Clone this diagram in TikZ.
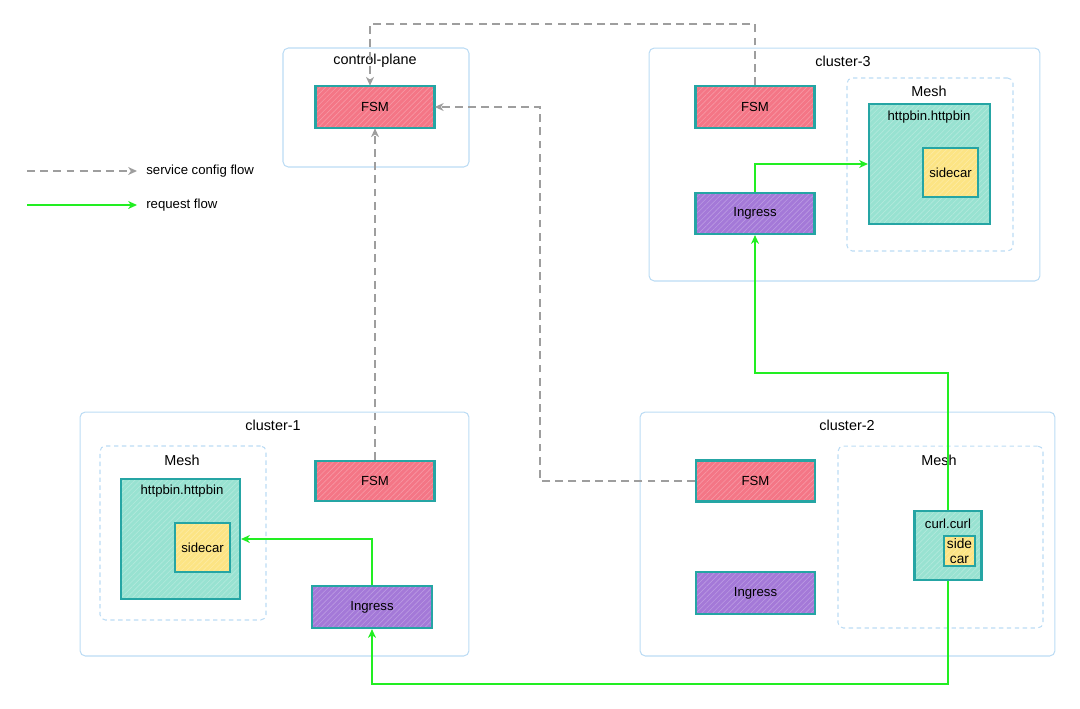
\documentclass[tikz,border=0pt]{standalone}
\usepackage{fontspec}
\setmainfont{Liberation Sans}
\usetikzlibrary{arrows.meta,patterns.meta}
\definecolor{fsmred}{HTML}{F47686}
\definecolor{ingpurple}{HTML}{A479D8}
\definecolor{podteal}{HTML}{98E2D1}
\definecolor{caryellow}{HTML}{FCE484}
\definecolor{compline}{HTML}{25A5A4}
\definecolor{clusterline}{HTML}{BCDCF4}
\definecolor{cfggray}{HTML}{9E9E9E}
\definecolor{reqgreen}{HTML}{22EE22}
\tikzset{
	comp/.style={draw=compline, line width=1.2pt, preaction={fill=#1},
			pattern={Lines[angle=45,distance=2.2pt,line width=0.35pt]}, pattern color=#1!75!white,
			font=\fontsize{7.5}{9}\selectfont, inner sep=1pt, align=center},
	cluster/.style={draw=clusterline, line width=0.6pt, rounded corners=3pt},
	mesh/.style={draw=clusterline, line width=0.6pt, dashed, dash pattern=on 2.5pt off 2pt, rounded corners=3pt},
	title/.style={font=\fontsize{8.2}{10}\selectfont, inner sep=0pt},
	small/.style={font=\fontsize{7.5}{9}\selectfont, inner sep=0pt},
	cfg/.style={draw=cfggray, line width=0.9pt, dash pattern=on 4.5pt off 3pt, -{Stealth[length=5pt,width=4.5pt,inset=1.5pt]}},
	req/.style={draw=reqgreen, line width=0.9pt, -{Stealth[length=5pt,width=4.5pt,inset=1.5pt]}}
}

\begin{document}
\begin{tikzpicture}[x=0.02cm, y=-0.02cm]
		\useasboundingbox (0,0) rectangle (1080,708);
		
		% control-plane
		\node[cluster, minimum width=3.72cm, minimum height=2.38cm] (cp) at (376,107.5) {};
		\node[title] (cptitle) at (375,61) {control-plane};
		\node[comp=fsmred, minimum width=2.38cm, minimum height=0.84cm] (fsmcp) at (375,107) {FSM};
		
		% cluster-3
		\node[cluster, minimum width=7.82cm, minimum height=4.66cm] (c3) at (844.5,164.5) {};
		\node[title] (c3title) at (843,61) {cluster-3};
		\node[comp=fsmred, minimum width=2.38cm, minimum height=0.84cm] (fsm3) at (755,107) {FSM};
		\node[comp=ingpurple, minimum width=2.38cm, minimum height=0.82cm] (ing3) at (755,213.5) {Ingress};
		\node[mesh, minimum width=3.32cm, minimum height=3.46cm] (mesh3) at (930,164.5) {};
		\node[title] (mesh3title) at (929,91) {Mesh};
		\node[comp=podteal, minimum width=2.42cm, minimum height=2.4cm] (h3) at (929.5,164) {};
		\node[small] (h3title) at (929,117) {httpbin.httpbin};
		\node[comp=caryellow, minimum width=1.1cm, minimum height=0.98cm] (car3) at (950.5,172.5) {sidecar};
		
		% cluster-1
		\node[cluster, minimum width=7.78cm, minimum height=4.88cm] (c1) at (274.5,534) {};
		\node[title] (c1title) at (273,425) {cluster-1};
		\node[mesh, minimum width=3.32cm, minimum height=3.48cm] (mesh1) at (183,533) {};
		\node[title] (mesh1title) at (182,460) {Mesh};
		\node[comp=podteal, minimum width=2.38cm, minimum height=2.4cm] (h1) at (180.5,539) {};
		\node[small] (h1title) at (182,491) {httpbin.httpbin};
		\node[comp=caryellow, minimum width=1.1cm, minimum height=0.98cm] (car1) at (202.5,547.5) {sidecar};
		\node[comp=fsmred, minimum width=2.38cm, minimum height=0.8cm] (fsm1) at (375,481) {FSM};
		\node[comp=ingpurple, minimum width=2.4cm, minimum height=0.84cm] (ing1) at (372,607) {Ingress};
		
		% cluster-2
		\node[cluster, minimum width=8.3cm, minimum height=4.88cm] (c2) at (847.5,534) {};
		\node[title] (c2title) at (847,425) {cluster-2};
		\node[comp=fsmred, minimum width=2.38cm, minimum height=0.82cm] (fsm2) at (755.5,481) {FSM};
		\node[comp=ingpurple, minimum width=2.38cm, minimum height=0.84cm] (ing2) at (755.5,593) {Ingress};
		\node[mesh, minimum width=4.1cm, minimum height=3.64cm] (mesh2) at (940.5,537) {};
		\node[title] (mesh2title) at (939,460) {Mesh};
		\node[comp=podteal, minimum width=1.34cm, minimum height=1.38cm] (curl) at (948,545.5) {};
		\node[small] (curltitle) at (948,524) {curl.curl};
		\node[comp=caryellow, minimum width=0.62cm, minimum height=0.6cm, font=\fontsize{7.8}{8.5}\selectfont] (car2) at (959.5,551) {side\\car};
		
		% service config flow
		\coordinate (cfgtop) at (370,24);
		\coordinate (cfgmid) at (540,300);
		\draw[cfg] (fsm3.north) |- (cfgtop) -- (cfgtop |- fsmcp.north);
		\draw[cfg] (fsm2.west) -| (cfgmid) |- (fsmcp.east);
		\draw[cfg] (fsm1.north) -- (fsmcp.south);
		
		% request flow
		\coordinate (reqmid) at (755,373);
		\coordinate (reqlow) at (372,684);
		\draw[req] (ing3.north) |- (h3.west);
		\draw[req] (ing1.north) |- (h1.east);
		\draw[req] (curl.north) |- (reqmid) -- (ing3.south);
		\draw[req] (curl.south) |- (reqlow) -- (ing1.south);
		
		% legend
		\coordinate (lgcfga) at (27,171);
		\coordinate (lgcfgb) at (137,171);
		\coordinate (lgreqa) at (27,205);
		\coordinate (lgreqb) at (137,205);
		\draw[cfg] (lgcfga) -- (lgcfgb);
		\draw[req] (lgreqa) -- (lgreqb);
		\node[small, anchor=west] (lgcfg) at (146,171) {service config flow};
		\node[small, anchor=west] (lgreq) at (146,205) {request flow};
	\end{tikzpicture}
\end{document}
